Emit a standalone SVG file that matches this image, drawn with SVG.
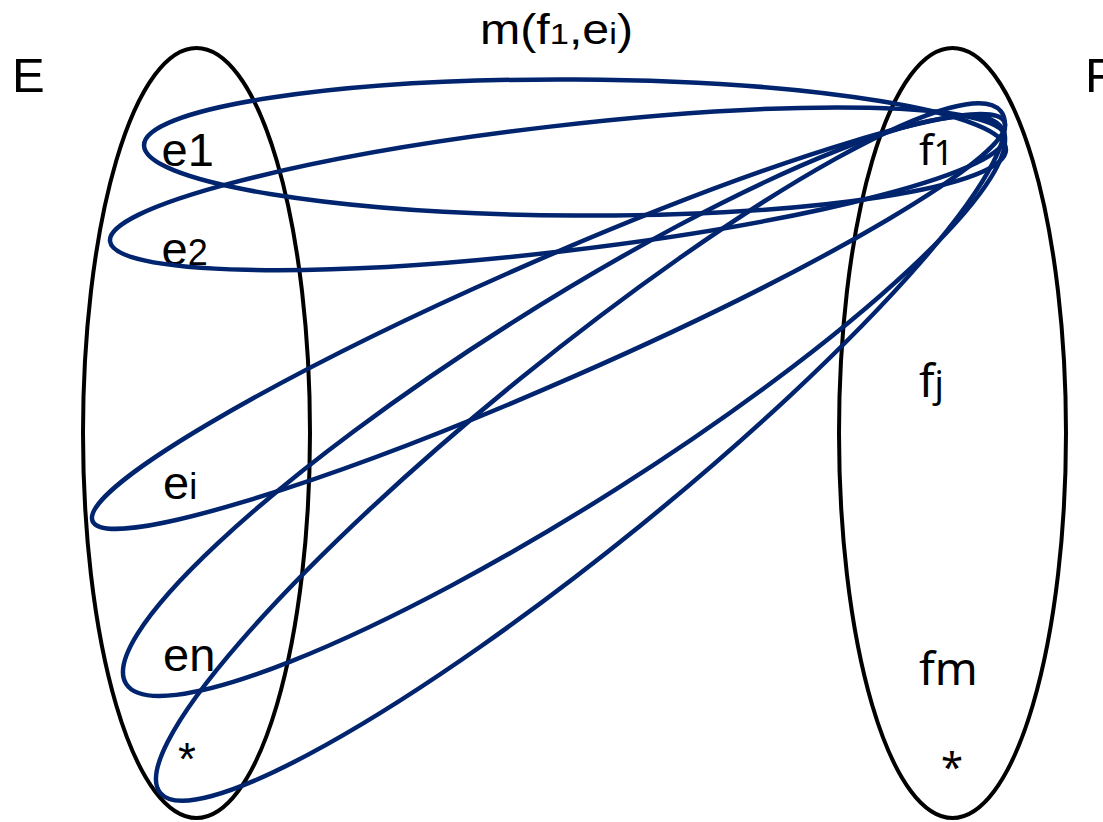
<svg xmlns="http://www.w3.org/2000/svg" width="1103" height="822" viewBox="0 0 1103 822">
  <style>
    .set { fill: none; stroke: #000; stroke-width: 4; }
    .map { fill: none; stroke: #00246E; stroke-width: 4.5; }
    .lbl { font-family: "Liberation Sans", Arial, sans-serif; fill: #000; }
    .rlbl { font-family: "Noto Sans", "Open Sans", sans-serif; fill: #000; }
  </style>
  <rect width="1103" height="822" fill="#fff"/>

  <!-- set E -->
  <g id="set-E">
    <ellipse class="set" cx="196.5" cy="433" rx="113.5" ry="385"/>
    <text class="lbl" x="12" y="92" font-size="49">E</text>
    <text class="lbl" x="161.5" y="166" font-size="47">e1</text>
    <text class="lbl" x="161.5" y="265" font-size="47">e<tspan font-size="36">2</tspan></text>
    <text class="lbl" x="163" y="499" font-size="47">e<tspan font-size="36">i</tspan></text>
    <text class="lbl" x="163" y="671" font-size="47">en</text>
    <text class="lbl" x="178" y="775" font-size="46">*</text>
  </g>

  <!-- set F -->
  <g id="set-F">
    <ellipse class="set" cx="952.5" cy="433" rx="113.5" ry="385"/>
    <text class="lbl" x="1085" y="92" font-size="49">F</text>
    <text class="rlbl" x="919" y="165" font-size="42">f<tspan font-size="35">1</tspan></text>
    <text class="rlbl" x="919" y="397" font-size="45">f<tspan font-size="36">j</tspan></text>
    <text class="rlbl" x="919" y="685" font-size="46">fm</text>
    <text class="rlbl" x="941" y="781" font-size="40">*</text>
  </g>

  <!-- title -->
  <g id="title">
    <text class="lbl" x="480" y="44" font-size="42" textLength="153" lengthAdjust="spacingAndGlyphs">m(f<tspan font-size="30">1</tspan>,e<tspan font-size="30">i</tspan>)</text>
  </g>

  <!-- mappings from f1 to each element of E -->
  <g id="connectors">
    <ellipse id="m-e1" class="map" cx="575" cy="147.5" rx="431" ry="68" transform="rotate(0.3 575 147.5)"/>
    <ellipse id="m-e2" class="map" cx="557.5" cy="188.8" rx="450.5" ry="62.6" transform="rotate(-6.68 557.5 188.8)"/>
    <ellipse id="m-ei" class="map" cx="548.5" cy="321.5" rx="497.7" ry="60.5" transform="rotate(-23.66 548.5 321.5)"/>
    <ellipse id="m-en" class="map" cx="564" cy="406" rx="518.6" ry="98.2" transform="rotate(-32.4 564 406)"/>
    <ellipse id="m-star" class="map" cx="580.5" cy="452" rx="541.1" ry="94.9" transform="rotate(-39.04 580.5 452)"/>
  </g>
</svg>
